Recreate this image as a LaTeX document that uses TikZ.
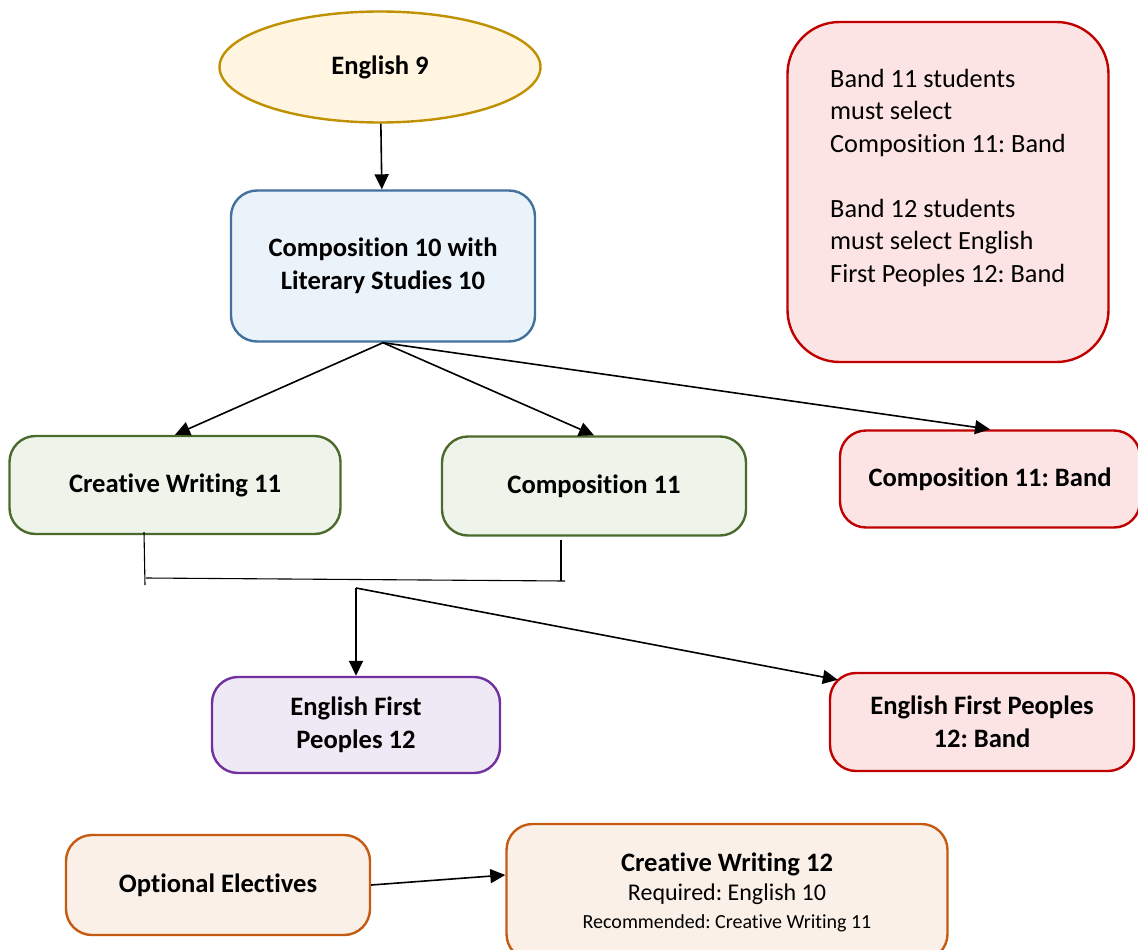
\documentclass[tikz,border=0pt]{standalone}
\usepackage{fontspec}
\setmainfont{Carlito}[Ligatures=NoCommon]
\frenchspacing
\usetikzlibrary{shapes.geometric,arrows.meta}
\definecolor{goldline}{HTML}{BF9000}
\definecolor{goldfill}{HTML}{FFF5E1}
\definecolor{blueline}{HTML}{41719C}
\definecolor{bluefill}{HTML}{EBF3FA}
\definecolor{greenline}{HTML}{4B6B2C}
\definecolor{greenfill}{HTML}{EFF4EA}
\definecolor{redline}{HTML}{C00000}
\definecolor{redfill}{HTML}{FDE4E4}
\definecolor{purpleline}{HTML}{7030A0}
\definecolor{purplefill}{HTML}{EFE9F5}
\definecolor{orangeline}{HTML}{C55A11}
\definecolor{orangefill}{HTML}{FBF0E8}
\tikzset{
	course/.style={draw, rounded corners=26pt, line width=2.4pt, align=center,
		inner sep=0pt, font=\fontsize{26.6}{33}\selectfont\bfseries},
	ygreen/.style={course, draw=greenline, fill=greenfill},
	yred/.style={course, draw=redline, fill=redfill},
	yorange/.style={course, draw=orangeline, fill=orangefill},
	link/.style={line width=1.6pt, ->},
	joint/.style={line width=1.1pt}
}
\begin{document}
\begin{tikzpicture}[x=1pt, y=-1pt, line join=round, >={Triangle[length=15pt,width=14pt]}]
		\useasboundingbox (0,0) rectangle (1138,950);
		% grade 9 and 10
		\node[ellipse, draw=goldline, fill=goldfill, line width=2.4pt, minimum width=321pt, minimum height=111pt,
			inner sep=0pt, font=\fontsize{26.6}{33}\selectfont\bfseries] (eng9) at (380,67) {English 9};
		\node[course, draw=blueline, fill=bluefill, minimum width=304pt, minimum height=151pt] (comp10) at (383,266)
			{Composition 10 with\\Literary Studies 10};
		\node[yred, rounded corners=52pt, minimum width=321pt, minimum height=340pt, align=left,
			font=\fontsize{26.3}{32.5}\selectfont] (note) at (948,192)
			{Band 11 students\\must select\\Composition 11: Band\\[32.5pt]Band 12 students\\must select English\\First Peoples 12: Band\\\mbox{}};
		% grade 11
		\node[ygreen, minimum width=331pt, minimum height=98pt] (cw11) at (175,485) {Creative Writing 11};
		\node[ygreen, minimum width=304pt, minimum height=99pt] (comp11) at (594,486) {Composition 11};
		\node[yred, minimum width=300pt, minimum height=97pt] (comp11b) at (990,479) {Composition 11: Band};
		% grade 12
		\node[course, draw=purpleline, fill=purplefill, minimum width=288pt, minimum height=96pt] (efp12) at (356,725)
			{English First\\Peoples 12};
		\node[yred, minimum width=304pt, minimum height=98pt] (efp12b) at (982,722) {English First Peoples\\12: Band};
		% electives
		\node[yorange, minimum width=304pt, minimum height=100pt] (opt) at (218,885) {Optional Electives};
		\node[yorange, minimum width=441pt, minimum height=136pt] (cw12) at (727,892)
			{Creative Writing 12\\[-4pt]{\fontsize{24}{29}\selectfont\mdseries Required: English 10}\\[-5pt]
			{\fontsize{20}{24}\selectfont\mdseries Recommended: Creative Writing 11}};
		\draw[link] (eng9) -- (comp10);
		\draw[link] (comp10.south) -- (cw11.north);
		\draw[link] (comp10.south) -- (comp11.north);
		\draw[link] (comp10.south) -- (comp11b.north);
		% joining lines under grade 11
		\coordinate (cwfoot) at (144,532);
		\coordinate (compfoot) at (561,540);
		\coordinate (split) at (356,588);
		\draw[joint] (cwfoot) -- (145,585);
		\draw[joint] (146,578) -- (565,581);
		\draw[joint] (compfoot) -- (561,581);
		\draw[link] (split) -- (efp12.north);
		\draw[link] (split) -- ([shift={(9,8)}]efp12b.north west);
		\draw[link] (opt.east) -- ([yshift=17pt]cw12.west);
\end{tikzpicture}
\end{document}
